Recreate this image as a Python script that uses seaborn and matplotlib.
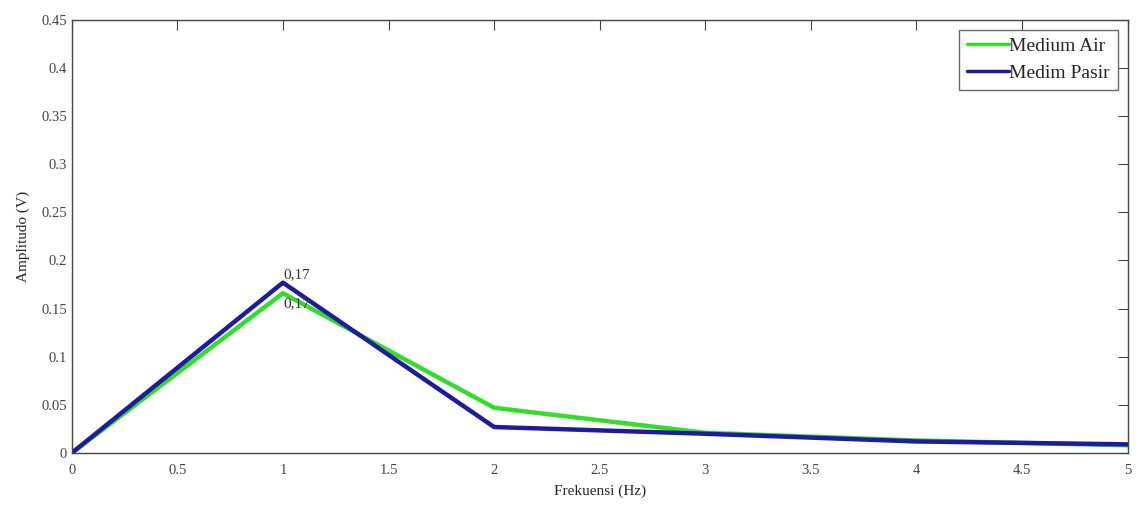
import pandas as pd
import matplotlib.pyplot as plt
import seaborn as sns

# --- Data ---
frekuensi = [0, 1, 2, 3, 4, 5]
medium_air = [0.0, 0.166, 0.047, 0.021, 0.013, 0.008]
medium_pasir = [0.0, 0.177, 0.027, 0.020, 0.012, 0.009]
series_names = ["Medium Air", "Medim Pasir"]
x_ticks = [0, 0.5, 1, 1.5, 2, 2.5, 3, 3.5, 4, 4.5, 5]
y_ticks = [0, 0.05, 0.1, 0.15, 0.2, 0.25, 0.3, 0.35, 0.4, 0.45]
peak_labels = ["0,17", "0,17"]

df = pd.DataFrame({
    "Frekuensi": frekuensi * 2,
    "Amplitudo": medium_air + medium_pasir,
    "Medium": [series_names[0]] * len(frekuensi) + [series_names[1]] * len(frekuensi),
})

sns.set_style("white")
plt.rcParams["font.family"] = ["Liberation Serif", "DejaVu Serif"]

fig = plt.figure(figsize=(11.39, 5.09), dpi=100)
ax = fig.add_axes([0.063, 0.110, 0.927, 0.851])

sns.lineplot(data=df, x="Frekuensi", y="Amplitudo", hue="Medium",
             palette={"Medium Air": "#33dd2a", "Medim Pasir": "#1c1c9c"},
             linewidth=3.2, ax=ax, legend=True)

# value labels at the peak
ax.text(1, medium_pasir[1] + 0.002, peak_labels[0], fontsize=11, ha="left", va="bottom", color="#333333")
ax.text(1, medium_air[1] - 0.004, peak_labels[1], fontsize=11, ha="left", va="top", color="#333333")

ax.set_xlim(0, 5)
ax.set_ylim(0, 0.45)
ax.set_xticks(x_ticks)
ax.set_xticklabels([f"{t:g}" for t in x_ticks])
ax.set_yticks(y_ticks)
ax.set_yticklabels([f"{t:g}" for t in y_ticks])
ax.tick_params(direction="in", length=7, width=0.8, top=True, right=True,
               labelsize=10.5, colors="#444444")
ax.tick_params(axis="x", pad=8)
for s in ax.spines.values():
    s.set_color("#444444")
    s.set_linewidth(1.0)

ax.set_xlabel("Frekuensi (Hz)", fontsize=11, labelpad=5)
ax.set_ylabel("Amplitudo (V)", fontsize=11, labelpad=8)

leg = ax.legend(loc="upper right", fontsize=14, frameon=True, fancybox=False,
                edgecolor="#444444", handlelength=2.2, handletextpad=0.0,
                borderaxespad=0.5, borderpad=0.4, labelspacing=0.5)
leg.get_frame().set_linewidth(1.0)
for line in leg.get_lines():
    line.set_linewidth(2.5)

plt.savefig("out.png", dpi=100)
